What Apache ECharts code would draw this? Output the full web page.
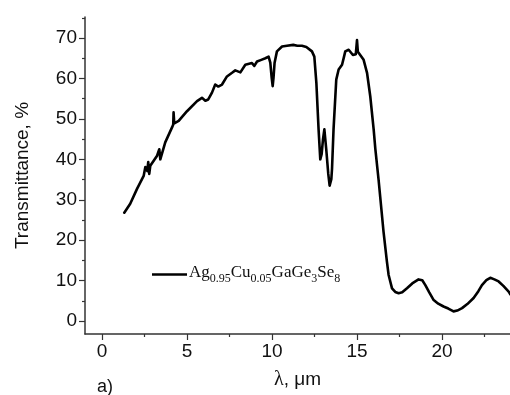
<!DOCTYPE html>
<html>
<head>
<meta charset="utf-8">
<script src="https://cdn.jsdelivr.net/npm/echarts@6/dist/echarts.min.js"></script>
<style>
  html, body { margin: 0; padding: 0; background: #fff; }
  #chart { width: 510px; height: 395px; }
</style>
</head>
<body>
<div id="chart"></div>
<script>
// wavelength, um
const lambdaValues = [
  1.31, 1.66, 2.06, 2.45, 2.55, 2.66, 2.72, 2.78, 2.84, 3.24, 3.37, 3.43, 3.72, 4.12, 4.19, 4.21, 4.25,
  4.51, 5.0, 5.59, 5.88, 6.08, 6.25, 6.47, 6.66, 6.84, 7.06, 7.35, 7.65, 7.84, 8.14, 8.43, 8.82, 8.96,
  9.12, 9.37, 9.61, 9.80, 9.90, 9.98, 10.04, 10.09, 10.15, 10.29, 10.59, 10.88, 11.25, 11.49, 11.76,
  12.02, 12.35, 12.49, 12.61, 12.74, 12.84, 12.92, 13.0, 13.08, 13.19, 13.31, 13.39, 13.49, 13.53,
  13.62, 13.78, 13.92, 14.12, 14.22, 14.31, 14.51, 14.76, 14.93, 15.0, 15.05, 15.15, 15.39, 15.59,
  15.78, 15.98, 16.08, 16.27, 16.56, 16.76, 16.86, 17.06, 17.25, 17.45, 17.66, 17.94, 18.25, 18.62,
  18.84, 19.02, 19.25, 19.51, 19.78, 20.09, 20.37, 20.68, 20.9, 21.18, 21.49, 21.86, 22.14, 22.35,
  22.61, 22.84, 23.08, 23.33, 23.61, 23.92, 24.02
];
// transmittance, %
const transmittance = [
  26.8, 29.0, 32.7, 35.9, 38.1, 37.1, 39.3, 36.4, 38.4, 40.9, 42.5, 40.0, 44.2, 47.9, 48.6, 51.6, 48.9,
  49.5, 51.9, 54.4, 55.2, 54.5, 54.8, 56.5, 58.5, 58.0, 58.5, 60.5, 61.4, 62.0, 61.5, 63.4, 63.8, 63.1,
  64.2, 64.6, 65.0, 65.4, 63.9, 60.2, 58.1, 60.2, 63.8, 66.7, 67.9, 68.1, 68.3, 68.1, 68.1,
  67.8, 66.7, 65.4, 58.9, 47.4, 40.0, 41.3, 45.0, 47.4, 42.5, 36.4, 33.5, 35.1, 37.6,
  47.4, 59.7, 62.2, 63.4, 65.1, 66.7, 67.1, 65.8, 66.0, 69.5, 66.6, 66.4, 64.6, 61.4,
  55.6, 47.4, 42.5, 34.9, 22.1, 14.7, 11.4, 8.1, 7.2, 6.9, 7.1, 8.1, 9.3, 10.3,
  10.1, 8.9, 7.1, 5.2, 4.3, 3.6, 3.1, 2.4, 2.6, 3.2, 4.2, 5.7, 7.4, 8.9,
  10.1, 10.7, 10.3, 9.8, 8.7, 7.3, 6.6
];
const xMajorTicks = [0, 5, 10, 15, 20];
const xMinorTicks = [2.5, 7.5, 12.5, 17.5, 22.5];
const yMajorTicks = [0, 10, 20, 30, 40, 50, 60, 70];
const yMinorTicks = [5, 15, 25, 35, 45, 55, 65, 75];
const seriesName = "Ag0.95Cu0.05GaGe3Se8";

const chart = echarts.init(document.getElementById("chart"));
const axisColor = "#333";
const labelFont = { color: "#111", fontSize: 19, fontFamily: "Liberation Sans, Arial, sans-serif" };

const minorX = {
  type: "value", min: -1, max: 24, position: "bottom",
  axisLine: { show: false, onZero: false },
  axisTick: { show: true, inside: false, length: 3, customValues: xMinorTicks, lineStyle: { color: axisColor, width: 1.2 } },
  axisLabel: { show: false },
  splitLine: { show: false }
};
const minorY = {
  type: "value", min: -3.2, max: 75.2, position: "left",
  axisLine: { show: false, onZero: false },
  axisTick: { show: true, inside: false, length: 3, customValues: yMinorTicks, lineStyle: { color: axisColor, width: 1.2 } },
  axisLabel: { show: false },
  splitLine: { show: false }
};

chart.setOption({
  backgroundColor: "#fff",
  animation: false,
  grid: { left: 85, right: 0, top: 17, bottom: 59, containLabel: false },
  legend: {
    left: 147, top: 259,
    icon: "rect", itemWidth: 35, itemHeight: 2.5, itemGap: 0,
    data: [seriesName],
    formatter: () => "{m|Ag}{s|0.95}{m|Cu}{s|0.05}{m|GaGe}{s|3}{m|Se}{s|8}",
    textStyle: {
      padding: [0, 0, 0, -3],
      rich: {
        m: { fontFamily: "Liberation Serif, Times New Roman, serif", fontSize: 17, color: "#111", lineHeight: 21, verticalAlign: "top" },
        s: { fontFamily: "Liberation Serif, Times New Roman, serif", fontSize: 12, color: "#111", lineHeight: 21, verticalAlign: "bottom" }
      }
    }
  },
  xAxis: [
    {
      type: "value", min: -1, max: 24, position: "bottom",
      name: "{l|λ}, μm", nameLocation: "middle", nameGap: 36,
      nameTextStyle: {
        fontSize: 19, color: "#111", fontFamily: "Liberation Sans, Arial, sans-serif",
        rich: { l: { fontSize: 20, fontFamily: "Liberation Serif, Times New Roman, serif", color: "#111" } }
      },
      axisLine: { show: true, onZero: false, lineStyle: { color: axisColor, width: 1.5 } },
      axisTick: { show: true, inside: false, length: 6, customValues: xMajorTicks, lineStyle: { color: axisColor, width: 1.2 } },
      axisLabel: Object.assign({ customValues: xMajorTicks, margin: 8 }, labelFont),
      splitLine: { show: false }
    },
    minorX
  ],
  yAxis: [
    {
      type: "value", min: -3.2, max: 75.2, position: "left",
      name: "Transmittance, %", nameLocation: "middle", nameGap: 53, nameRotate: 90,
      nameTextStyle: { fontSize: 19, color: "#111", fontFamily: "Liberation Sans, Arial, sans-serif" },
      axisLine: { show: true, onZero: false, lineStyle: { color: axisColor, width: 1.5 } },
      axisTick: { show: true, inside: false, length: 6, customValues: yMajorTicks, lineStyle: { color: axisColor, width: 1.2 } },
      axisLabel: Object.assign({ customValues: yMajorTicks, margin: 8 }, labelFont),
      splitLine: { show: false }
    },
    minorY
  ],
  graphic: [
    {
      type: "text", left: 97, top: 378,
      style: { text: "a)", fontSize: 18, fill: "#111", fontFamily: "Liberation Sans, Arial, sans-serif" }
    }
  ],
  series: [
    {
      name: seriesName,
      type: "line",
      xAxisIndex: 0, yAxisIndex: 0,
      showSymbol: false,
      lineStyle: { color: "#000", width: 2.6, cap: "round", join: "round" },
      itemStyle: { color: "#000" },
      data: lambdaValues.map((x, i) => [x, transmittance[i]])
    }
  ]
});
</script>
</body>
</html>
